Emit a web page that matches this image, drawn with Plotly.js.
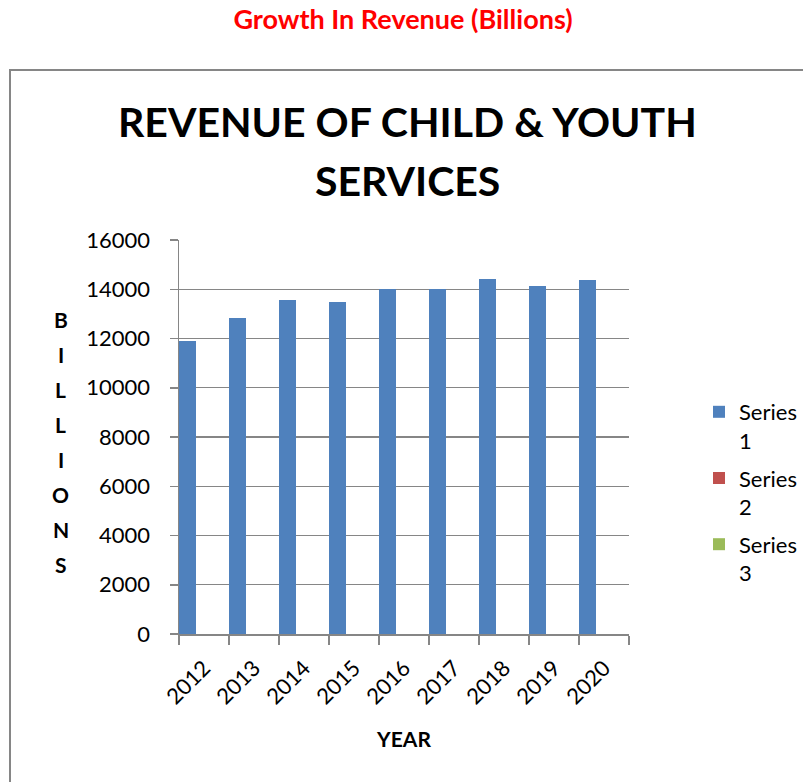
<!DOCTYPE html>
<html>
<head>
<meta charset="utf-8">
<script src="https://cdn.plot.ly/plotly-3.0.1.min.js"></script>
<style>html,body{margin:0;padding:0;background:#fff;}#chart{width:803px;height:782px;}</style>
</head>
<body>
<div id="chart"></div>
<script>
// ---- data ----
const years = ["2012","2013","2014","2015","2016","2017","2018","2019","2020"];
const series1 = [11900, 12850, 13550, 13500, 14000, 14000, 14430, 14130, 14390];
const series2 = [0, 0, 0, 0, 0, 0, 0, 0, 0];
const series3 = [0, 0, 0, 0, 0, 0, 0, 0, 0];
const seriesNames = ["Series<br>1", "Series<br>2", "Series<br>3"];
const yTickVals = [0, 2000, 4000, 6000, 8000, 10000, 12000, 14000, 16000];
const pageTitle = "Growth In Revenue (Billions)";
const chartTitleLines = ["REVENUE OF CHILD &amp; YOUTH", "SERVICES"];
const yTitleLetters = ["B","I","L","L","I","O","N","S"];
const xTitle = "YEAR";

// ---- layout geometry ----
const W = 803, H = 782;
const mL = 179, mR = 174, mT = 240, mB = 148;
const pw = W - mL - mR, ph = H - mT - mB;
const px2x = p => (p - mL) / pw;
const py2y = p => (H - mB - p) / ph;

const F = "Lato, 'Open Sans', sans-serif";
const grey = "#868686";

const traces = [
  {type: "bar", x: years, y: series1, name: seriesNames[0], marker: {color: "#4F81BD"}, legendgroup: "a"},
  {type: "bar", x: years, y: series2, name: seriesNames[1], marker: {color: "#C0504D"}, legendgroup: "b"},
  {type: "bar", x: years, y: series3, name: seriesNames[2], marker: {color: "#9BBB59"}, legendgroup: "c"}
];

const annotations = [];
const titleY = [121.5, 180.5];
chartTitleLines.forEach((t, i) => annotations.push({
  xref: "paper", yref: "paper", x: px2x(407), y: py2y(titleY[i]),
  xanchor: "center", yanchor: "middle", showarrow: false, text: "<b>" + t + "</b>",
  font: {family: F, size: 41, color: "#000"}
}));
yTitleLetters.forEach((l, i) => annotations.push({
  xref: "paper", yref: "paper", x: px2x(61), y: py2y(319.5 + i * 35.07),
  xanchor: "center", yanchor: "middle", showarrow: false, text: "<b>" + l + "</b>",
  font: {family: F, size: 21, color: "#000"}
}));

const layout = {
  width: W, height: H,
  margin: {l: mL, r: mR, t: mT, b: mB, pad: 0, autoexpand: false},
  paper_bgcolor: "#fff", plot_bgcolor: "#fff",
  font: {family: F, color: "#000"},
  title: {
    text: "<b>" + pageTitle + "</b>",
    font: {family: F, size: 27, color: "#FF0000"},
    x: 403 / W, xanchor: "center", xref: "container",
    y: 1 - 20 / H, yanchor: "middle", yref: "container"
  },
  barmode: "group", bargap: 0, bargroupgap: 0,
  xaxis: {
    type: "category", tickson: "boundaries",
    showline: true, linecolor: grey, linewidth: 1.5,
    ticks: "outside", ticklen: 9, tickcolor: grey, tickwidth: 1.5,
    tickangle: -45, tickfont: {family: F, size: 22, color: "#000"},
    ticklabelstandoff: 11,
    showgrid: false, zeroline: false,
    title: {text: "<b>" + xTitle + "</b>", font: {family: F, size: 21, color: "#000"}, standoff: 24}
  },
  yaxis: {
    range: [0, 16000], tickvals: yTickVals, ticktext: yTickVals.map(String),
    showline: true, linecolor: grey, linewidth: 1.5,
    ticks: "outside", ticklen: 8, tickcolor: grey, tickwidth: 1.5,
    tickfont: {family: F, size: 22, color: "#000"}, ticklabelstandoff: 15,
    showgrid: true, gridcolor: grey, gridwidth: 1.3, zeroline: false
  },
  legend: {
    x: px2x(699), y: py2y(391), xanchor: "left", yanchor: "top",
    font: {family: F, size: 22, color: "#000"},
    valign: "top", tracegroupgap: 6, bgcolor: "rgba(0,0,0,0)", borderwidth: 0
  },
  shapes: [{
    type: "rect", xref: "paper", yref: "paper",
    x0: px2x(10), x1: px2x(W + 20), y0: py2y(H + 20), y1: py2y(70),
    line: {color: grey, width: 2}, fillcolor: "rgba(0,0,0,0)", layer: "below"
  }],
  annotations: annotations
};

Plotly.newPlot("chart", traces, layout, {displayModeBar: false, staticPlot: true});
</script>
</body>
</html>
